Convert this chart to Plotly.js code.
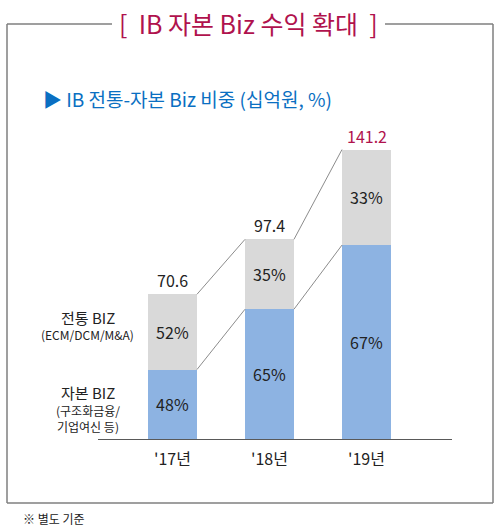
<!DOCTYPE html>
<html>
<head>
<meta charset="utf-8">
<script src="https://cdn.plot.ly/plotly-3.0.1.min.js"></script>
<style>
  html, body { margin:0; padding:0; background:#fff; }
  #chart { width:500px; height:530px; }
</style>
</head>
<body>
<div id="chart"></div>
<script>
// data
const years    = ["'17년", "'18년", "'19년"];
const totals   = [70.6, 97.4, 141.2];
const capPct   = [48, 65, 67];   // 자본 BIZ share (bottom, blue)
const tradPct  = [52, 35, 33];   // 전통 BIZ share (top, grey)

const FONT = '"Noto Sans CJK KR", "Noto Sans", sans-serif';
const BLUE = '#8db3e2', GREY = '#d9d9d9', LINE = '#8c8c8c';
const CRIMSON = '#b0124d', SUBBLUE = '#0a6fc2';

// plot area in pixels: l=98, r=452, top=120, bottom=439
const L = 98, R = 452, T = 120, B = 439;
const px = x => (x - L) / (R - L);
const py = y => (B - y) / (B - T);

const xs = years.map((_, i) => i);
const capVal  = totals.map((t, i) => t * capPct[i] / 100);
const tradVal = totals.map((t, i) => t - capVal[i]);
const BW = 0.505;

const data = [
  { type:'bar', x: xs, y: capVal, width: BW, marker:{ color: BLUE },
    text: capPct.map(v => v + '%'), textposition:'inside', insidetextanchor:'middle',
    textangle:0, textfont:{ family: FONT, size: 16, color:'#222' },
    hoverinfo:'none', showlegend:false },
  { type:'bar', x: xs, y: tradVal, width: BW, marker:{ color: GREY },
    text: tradPct.map(v => v + '%'), textposition:'inside', insidetextanchor:'middle',
    textangle:0, textfont:{ family: FONT, size: 16, color:'#222' },
    hoverinfo:'none', showlegend:false }
];

// thin connector lines between neighbouring bars
for (let i = 0; i < xs.length - 1; i++) {
  [[totals[i], totals[i+1]], [capVal[i], capVal[i+1]]].forEach(pair => {
    data.push({ type:'scatter', mode:'lines',
      x: [xs[i] + BW/2, xs[i+1] - BW/2], y: pair,
      line:{ color: LINE, width: 1 }, hoverinfo:'none', showlegend:false });
  });
}

const annotations = [];
// totals on top
totals.forEach((t, i) => {
  annotations.push({ x: xs[i], y: t, xref:'x', yref:'y', text: t.toFixed(1),
    showarrow:false, yanchor:'bottom', yshift: 0,
    font:{ family: FONT, size: 16, color: i === totals.length-1 ? CRIMSON : '#222' } });
});

function lab(text, x, y, size, color, xanchor) {
  annotations.push({ xref:'paper', yref:'paper', x: px(x), y: py(y), text: text,
    showarrow:false, xanchor: xanchor || 'center', yanchor:'middle',
    font:{ family: FONT, size: size, color: color } });
}
lab('[  IB 자본 Biz 수익 확대  ]', 248, 23, 25, CRIMSON);
lab('▶ IB 전통-자본 Biz 비중 (십억원, %)', 41, 98, 19, SUBBLUE, 'left');
lab('전통 BIZ', 88, 317, 15, '#222');
lab('(ECM/DCM/M&A)', 87, 334, 12, '#222');
lab('자본 BIZ', 88, 392, 15, '#222');
lab('(구조화금융/', 88, 410, 12, '#222');
lab('기업여신 등)', 88, 426, 12, '#222');
lab('※ 별도 기준', 21, 518, 12, '#222', 'left');

function seg(x0, y0, x1, y1) {
  return { type:'line', xref:'paper', yref:'paper',
    x0: px(x0), y0: py(y0), x1: px(x1), y1: py(y1),
    line:{ color:'#7f7f7f', width: 1.5 } };
}
const shapes = [
  seg(7, 24, 112, 24), seg(385, 24, 493, 24),
  seg(7, 24, 7, 503), seg(493, 24, 493, 503), seg(7, 503, 493, 503)
];

const layout = {
  width: 500, height: 530,
  margin:{ l: L, r: 500 - R, t: T, b: 530 - B, pad: 0 },
  paper_bgcolor:'#fff', plot_bgcolor:'#fff',
  barmode:'stack', bargap: 0,
  showlegend:false,
  xaxis:{ range:[(L - 172.5) / 97, (R - 172.5) / 97], tickvals: xs, ticktext: years,
    showgrid:false, zeroline:false, showline:true, linecolor:'#595959', linewidth:1,
    ticks:'', ticklabelstandoff: 6, tickfont:{ family: FONT, size: 16, color:'#222' },
    fixedrange:true },
  yaxis:{ range:[0, (B - T) / 2.05], visible:false, fixedrange:true },
  annotations: annotations,
  shapes: shapes,
  font:{ family: FONT }
};

Plotly.newPlot('chart', data, layout, { displayModeBar:false, staticPlot:true });
</script>
</body>
</html>
